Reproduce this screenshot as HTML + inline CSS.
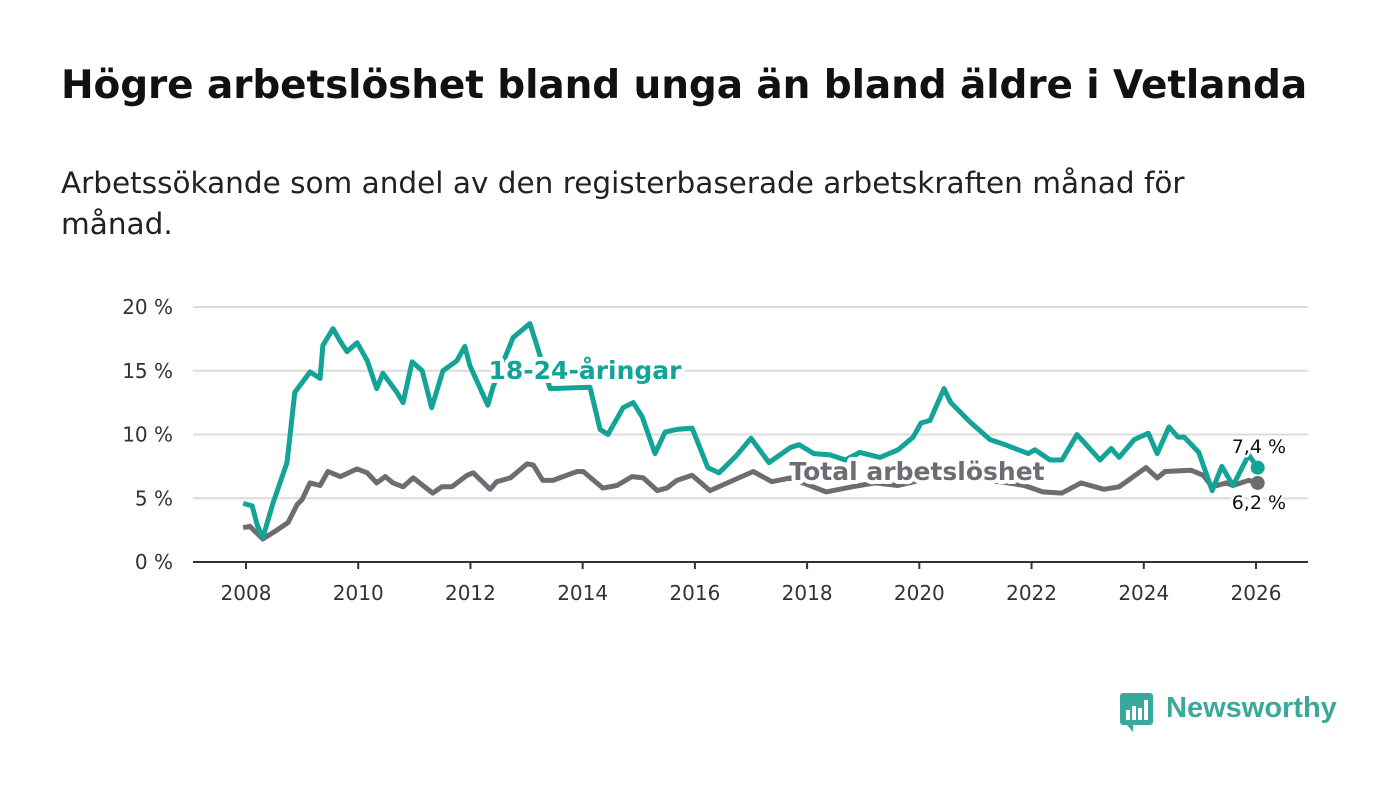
<!DOCTYPE html>
<html><head><meta charset="utf-8">
<style>
body{margin:0;background:#fff;font-family:"DejaVu Sans","Liberation Sans",sans-serif;}
#wrap{position:relative;width:1400px;height:794px;overflow:hidden;background:#fff;}
h1{position:absolute;left:61px;top:63px;margin:0;font-size:39px;font-weight:bold;color:#111;white-space:nowrap;letter-spacing:-0.1px;}
.sub{position:absolute;left:61px;top:163px;width:1200px;margin:0;font-size:29.5px;line-height:41px;color:#222;}
svg text{font-family:"DejaVu Sans","Liberation Sans",sans-serif;}
</style></head><body>
<div id="wrap">
<h1>Högre arbetslöshet bland unga än bland äldre i Vetlanda</h1>
<p class="sub">Arbetssökande som andel av den registerbaserade arbetskraften månad för månad.</p>
<svg id="chart" width="1400" height="794" style="position:absolute;left:0;top:0"></svg>
<div style="position:absolute;left:1119px;top:692px;width:220px;height:44px;">
<svg width="36" height="44" style="position:absolute;left:0;top:0"><rect x="1" y="1" width="33" height="32" rx="3" fill="#3aa99c"/><path d="M8 33 L14 33 L14 40 Z" fill="#3aa99c"/><rect x="7" y="18" width="4" height="10" fill="#fff"/><rect x="13" y="14" width="4" height="14" fill="#fff"/><rect x="19" y="16" width="4" height="12" fill="#fff"/><rect x="25" y="8" width="4" height="20" fill="#fff"/></svg>
<span style="position:absolute;left:47px;top:0px;font-family:'Liberation Sans',sans-serif;font-size:29px;font-weight:bold;color:#3aa99c;">Newsworthy</span>
</div>
</div>
<script>
const youthYears=[2007.95,2008.11,2008.20,2008.30,2008.48,2008.73,2008.87,2009.14,2009.32,2009.37,2009.55,2009.68,2009.80,2009.98,2010.16,2010.33,2010.44,2010.69,2010.80,2010.96,2011.14,2011.31,2011.51,2011.76,2011.90,2011.99,2012.31,2012.40,2012.76,2013.06,2013.19,2013.42,2014.13,2014.31,2014.45,2014.72,2014.90,2015.06,2015.29,2015.47,2015.68,2015.95,2016.23,2016.43,2016.73,2017.00,2017.32,2017.71,2017.86,2018.12,2018.41,2018.68,2018.94,2019.30,2019.62,2019.89,2020.03,2020.19,2020.44,2020.56,2020.90,2021.26,2021.53,2021.94,2022.06,2022.33,2022.54,2022.81,2023.22,2023.42,2023.56,2023.83,2024.08,2024.24,2024.45,2024.61,2024.72,2024.98,2025.22,2025.39,2025.59,2025.87,2026.03];
const youthValues=[4.6,4.4,2.9,1.9,4.6,7.8,13.3,14.9,14.4,17.0,18.3,17.3,16.5,17.2,15.8,13.6,14.8,13.3,12.5,15.7,15.0,12.1,15.0,15.8,16.9,15.4,12.3,13.7,17.6,18.7,16.9,13.6,13.7,10.4,10.0,12.1,12.5,11.4,8.5,10.2,10.4,10.5,7.4,7.0,8.3,9.7,7.8,9.0,9.2,8.5,8.4,8.0,8.6,8.2,8.8,9.8,10.9,11.1,13.6,12.5,11.0,9.6,9.2,8.5,8.8,8.0,8.0,10.0,8.0,8.9,8.2,9.6,10.1,8.5,10.6,9.8,9.8,8.6,5.6,7.5,6.0,8.4,7.4];
const totalYears=[2007.95,2008.07,2008.30,2008.55,2008.75,2008.91,2009.00,2009.14,2009.32,2009.46,2009.68,2009.98,2010.16,2010.33,2010.48,2010.62,2010.80,2010.98,2011.33,2011.49,2011.67,2011.94,2012.05,2012.35,2012.47,2012.71,2013.01,2013.12,2013.29,2013.47,2013.65,2013.90,2014.01,2014.36,2014.61,2014.88,2015.08,2015.33,2015.50,2015.68,2015.95,2016.27,2017.04,2017.37,2017.70,2018.34,2018.80,2019.21,2019.62,2020.01,2020.46,2020.90,2021.44,2021.87,2022.20,2022.54,2022.88,2023.29,2023.56,2024.04,2024.24,2024.38,2024.84,2025.06,2025.22,2025.47,2025.59,2025.87,2026.03];
const totalValues=[2.7,2.8,1.8,2.5,3.1,4.5,4.9,6.2,6.0,7.1,6.7,7.3,7.0,6.2,6.7,6.2,5.9,6.6,5.4,5.9,5.9,6.8,7.0,5.7,6.3,6.6,7.7,7.6,6.4,6.4,6.7,7.1,7.1,5.8,6.0,6.7,6.6,5.6,5.8,6.4,6.8,5.6,7.1,6.3,6.6,5.5,5.9,6.2,6.0,6.4,7.0,6.5,6.3,6.0,5.5,5.4,6.2,5.7,5.9,7.4,6.6,7.1,7.2,6.8,5.9,6.2,6.0,6.4,6.2];
const yTicks=[0,5,10,15,20];
const yTickLabels=["0 %","5 %","10 %","15 %","20 %"];
const xTicks=[2008,2010,2012,2014,2016,2018,2020,2022,2024,2026];

const svg=document.getElementById('chart');
const NS='http://www.w3.org/2000/svg';
const X=y=>246+(y-2008)*(1256-246)/18;
const Y=v=>562-v*(562-307)/20;
function mk(t,a){const e=document.createElementNS(NS,t);for(const k in a)e.setAttribute(k,a[k]);svg.appendChild(e);return e;}
yTicks.forEach((v,i)=>{
  if(v>0){const g=mk('line',{x1:193,x2:1308,y1:Y(v),y2:Y(v),stroke:'#dcdcdc','stroke-width':2});
  
  }
  const t=mk('text',{x:173,y:Y(v)+7,'text-anchor':'end','font-size':20,fill:'#333'});t.textContent=yTickLabels[i];
  
  
});
const ax=mk('line',{x1:193,x2:1308,y1:562,y2:562,stroke:'#333','stroke-width':2});


xTicks.forEach(yr=>{
  const tk=mk('line',{x1:X(yr),x2:X(yr),y1:562,y2:569,stroke:'#333','stroke-width':2});
  
  
  const t=mk('text',{x:X(yr),y:600,'text-anchor':'middle','font-size':20,fill:'#333'});t.textContent=yr;
  
  
});
function pts(xs,vs){return xs.map((x,i)=>X(x).toFixed(1)+','+Y(vs[i]).toFixed(1)).join(' ');}
const lt=mk('polyline',{points:pts(totalYears,totalValues),fill:'none',stroke:'#6e6c72','stroke-width':5,'stroke-linejoin':'round'});


const ly=mk('polyline',{points:pts(youthYears,youthValues),fill:'none',stroke:'#13a397','stroke-width':5,'stroke-linejoin':'round'});


const lastT=totalValues[totalValues.length-1],lastY=youthValues[youthValues.length-1];
const lx=X(totalYears[totalYears.length-1]);
const d1=mk('circle',{cx:lx,cy:Y(lastT),r:7,fill:'#6e6c72'});


const d2=mk('circle',{cx:X(youthYears[youthYears.length-1]),cy:Y(lastY),r:7,fill:'#13a397'});


function lab(x,y,txt,fill,size,bold,anchor,name){
  const t=mk('text',{x:x,y:y,'font-size':size,'font-weight':bold?'bold':'normal',fill:fill,stroke:'#fff','stroke-width':bold?8:5,'paint-order':'stroke','stroke-linejoin':'round','text-anchor':anchor});
  t.textContent=txt;
  
  
}
lab(585,379,'18-24-åringar','#13a397',25,true,'middle','youth-series-label');
lab(917,480,'Total arbetslöshet','#6e6c72',25,true,'middle','total-series-label');
lab(1286,453,lastY.toFixed(1).replace('.',',')+' %','#111',19,false,'end','youth-end-value');
lab(1286,509,lastT.toFixed(1).replace('.',',')+' %','#111',19,false,'end','total-end-value');
</script>
</body></html>
